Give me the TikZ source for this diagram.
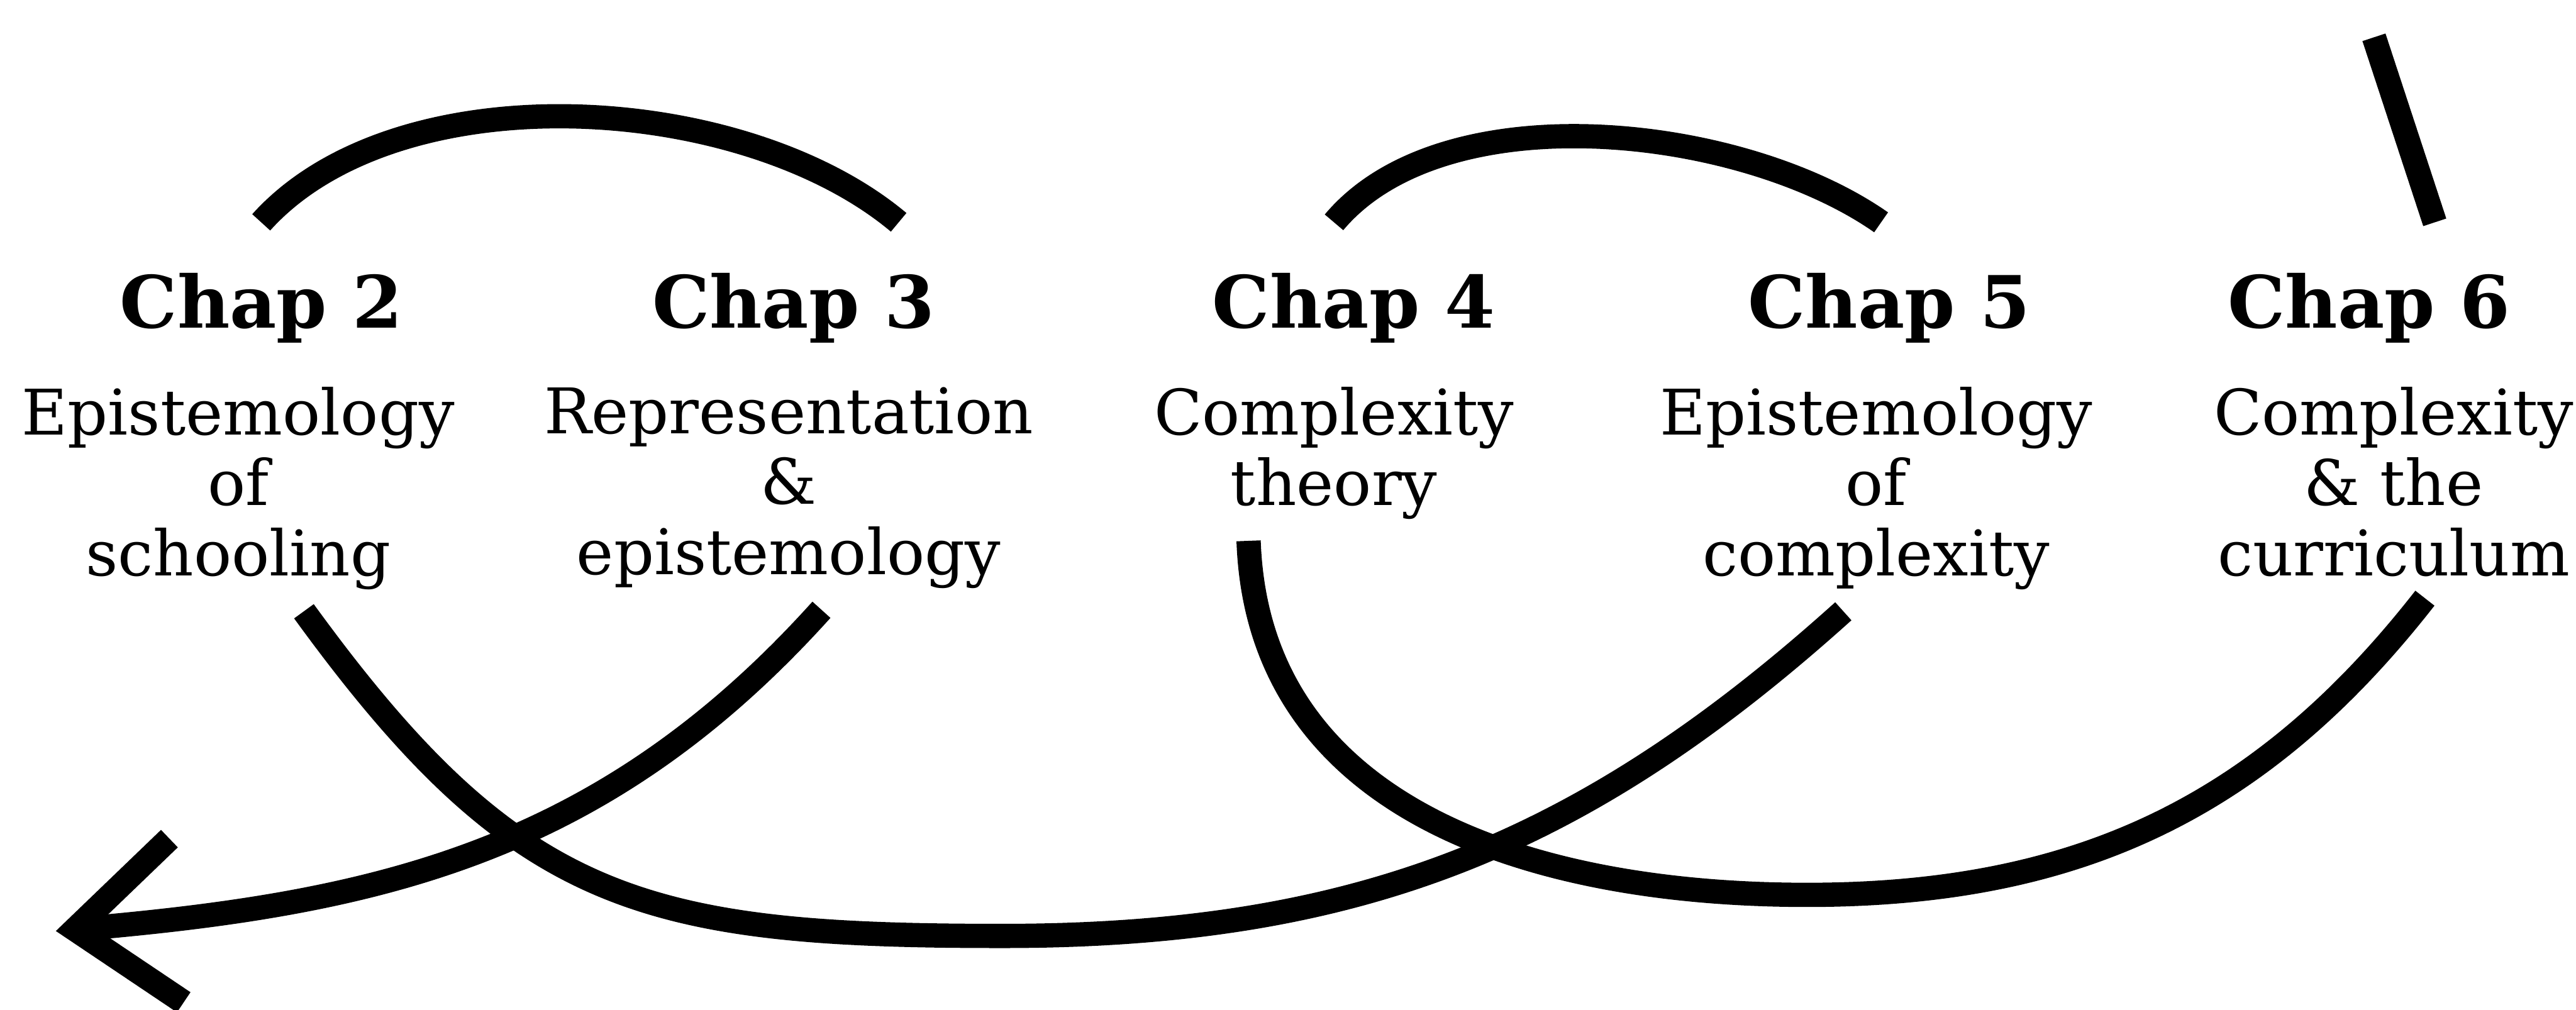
\documentclass[tikz,border=0pt]{standalone}
\usepackage{fontspec}
\setmainfont{DejaVu Serif}
\usetikzlibrary{arrows.meta}

\begin{document}
\begin{tikzpicture}[
  chap/.style={font=\bfseries\fontsize{12.5}{15}\selectfont,anchor=base,inner sep=0.5mm,outer sep=2.6mm},
  topic/.style={font=\fontsize{10.9}{12.2}\selectfont,align=center,anchor=north,inner sep=0.5mm,outer sep=0.8mm},
  link/.style={line width=4.2pt}]
  \useasboundingbox (0,0) rectangle (15.68,6.147);

  % chapter headings
  \node[chap] (c2) at (1.59,4.15) {Chap 2};
  \node[chap] (c3) at (4.83,4.15) {Chap 3};
  \node[chap] (c4) at (8.24,4.15) {Chap 4};
  \node[chap] (c5) at (11.50,4.15) {Chap 5};
  \node[chap] (c6) at (14.42,4.15) {Chap 6};

  \node[topic] (t2) at (1.45,3.92) {Epistemology\\of\\schooling};
  \node[topic] (t3) at (4.80,3.92) {Representation\\\&\\epistemology};
  \node[topic] (t4) at (8.12,3.92) {Complexity\\theory};
  \node[topic] (t5) at (11.42,3.92) {Epistemology\\of\\complexity};
  \node[topic] (t6) at (14.57,3.92) {Complexity\\\& the\\curriculum};

  \coordinate (above) at (14.45,5.92);
  \coordinate (tip) at (0.34,0.48);
  \coordinate (low1) at (6.1,0.45);
  \coordinate (low2) at (11.0,0.70);

  % arcs over the headings
  \draw[link] (c2.north) to[out=48,in=140,looseness=0.82] ([xshift=6.4mm]c3.north);
  \draw[link] ([xshift=-1.2mm]c4.north) to[out=50,in=145,looseness=0.8] ([xshift=-0.5mm]c5.north);
  \draw[link] (above) -- ([xshift=4mm]c6.north);

  % loops below
  \draw[link] ([xshift=4mm]t2.south) to[out=-54,in=180,looseness=1.2] (low1)
    to[out=0,in=-138] ([xshift=-2mm]t5.south);
  \draw[link,-{Straight Barb[length=6.2mm,width=10mm]}] ([xshift=2mm]t3.south) to[out=-132,in=5] (tip);
  \draw[link] ([xshift=-5.2mm]t4.south) to[out=-88,in=180,looseness=1.05] (low2)
    to[out=0,in=-128] ([xshift=1.9mm]t6.south);
\end{tikzpicture}
\end{document}
